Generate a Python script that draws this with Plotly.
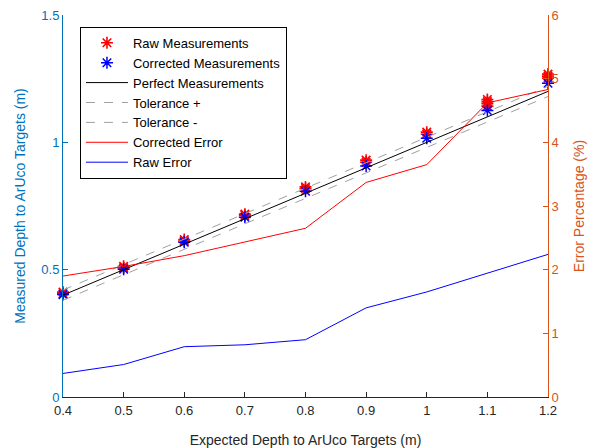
import plotly.graph_objects as go

expected = [0.4, 0.5, 0.6, 0.7, 0.8, 0.9, 1.0, 1.1, 1.2]
x_tick_labels = ["0.4", "0.5", "0.6", "0.7", "0.8", "0.9", "1", "1.1", "1.2"]

# Measurements (several samples per target distance)
raw_x = [0.4, 0.4, 0.5, 0.5, 0.6, 0.6, 0.7, 0.7, 0.8, 0.8, 0.9, 0.9, 1.0, 1.0, 1.1, 1.1, 1.1, 1.1, 1.2, 1.2, 1.2]
raw_y = [0.405, 0.412, 0.507, 0.513, 0.612, 0.618, 0.713, 0.718, 0.818, 0.825, 0.922, 0.93, 1.032, 1.04, 1.142, 1.152, 1.16, 1.168, 1.252, 1.26, 1.268]
cor_x = [0.4, 0.5, 0.6, 0.7, 0.8, 0.9, 1.0, 1.1, 1.2]
cor_y = [0.402, 0.502, 0.608, 0.706, 0.808, 0.907, 1.016, 1.125, 1.232]

tolerance = 0.02

corrected_error = [1.90, 2.05, 2.22, 2.43, 2.65, 3.37, 3.65, 4.62, 4.83]
raw_error = [0.37, 0.51, 0.79, 0.82, 0.90, 1.40, 1.65, 1.95, 2.24]

BLUE_AX = "#0072BD"
ORANGE_AX = "#D95319"
GRAY = "#262626"

fig = go.Figure()
fig.add_trace(go.Scatter(x=raw_x, y=raw_y, mode="markers", name="Raw Measurements",
                         marker=dict(symbol="asterisk-open", size=10, color="red",
                                     line=dict(color="red", width=1.6)),
                         cliponaxis=False))
fig.add_trace(go.Scatter(x=cor_x, y=cor_y, mode="markers", name="Corrected Measurements",
                         marker=dict(symbol="asterisk-open", size=10, color="blue",
                                     line=dict(color="blue", width=1.5)),
                         cliponaxis=False))
fig.add_trace(go.Scatter(x=expected, y=expected, mode="lines", name="Perfect Measurements",
                         line=dict(color="black", width=1)))
fig.add_trace(go.Scatter(x=expected, y=[v + tolerance for v in expected], mode="lines",
                         name="Tolerance +", line=dict(color="#a0a0a0", width=1, dash="dash")))
fig.add_trace(go.Scatter(x=expected, y=[v - tolerance for v in expected], mode="lines",
                         name="Tolerance -", line=dict(color="#a0a0a0", width=1, dash="dash")))
fig.add_trace(go.Scatter(x=expected, y=corrected_error, mode="lines", name="Corrected Error",
                         line=dict(color="red", width=1), yaxis="y2"))
fig.add_trace(go.Scatter(x=expected, y=raw_error, mode="lines", name="Raw Error",
                         line=dict(color="blue", width=1), yaxis="y2"))

font = "Liberation Sans, Arial, sans-serif"
fig.update_layout(
    width=598, height=448,
    margin=dict(l=63, r=50, t=15, b=51),
    paper_bgcolor="white", plot_bgcolor="white",
    font=dict(family=font, size=13, color=GRAY),
    showlegend=True,
    legend=dict(x=0.035, y=0.969, xanchor="left", yanchor="top",
                bgcolor="white", bordercolor="black", borderwidth=1,
                font=dict(size=13, color="black"), tracegroupgap=0, itemwidth=42),
    xaxis=dict(range=[0.4, 1.2], tickvals=expected, ticktext=x_tick_labels,
               ticks="inside", ticklen=5, tickcolor=GRAY, showline=True, linecolor=GRAY,
               showgrid=False, zeroline=False, automargin=False, ticklabelstandoff=1,
               title=dict(text="Expected Depth to ArUco Targets (m)", font=dict(size=14, color=GRAY),
                          standoff=20)),
    yaxis=dict(range=[0, 1.5], tickvals=[0, 0.5, 1, 1.5], ticktext=["0", "0.5", "1", "1.5"],
               ticks="inside", ticklen=5, tickcolor=BLUE_AX, showline=True, linecolor=BLUE_AX,
               tickfont=dict(color=BLUE_AX), showgrid=False, zeroline=False, automargin=False,
               title=dict(text="Measured Depth to ArUco Targets (m)", font=dict(size=14, color=BLUE_AX),
                          standoff=12)),
    yaxis2=dict(range=[0, 6], tickvals=[0, 1, 2, 3, 4, 5, 6], overlaying="y", side="right",
                ticks="inside", ticklen=5, tickcolor=ORANGE_AX, showline=True, linecolor=ORANGE_AX,
                tickfont=dict(color=ORANGE_AX), showgrid=False, zeroline=False, automargin=False,
                title=dict(text="Error Percentage (%)", font=dict(size=14, color=ORANGE_AX),
                           standoff=16)),
)

fig.write_html("out.html", config={"displayModeBar": False},
               post_script="document.body.style.margin='0';")
